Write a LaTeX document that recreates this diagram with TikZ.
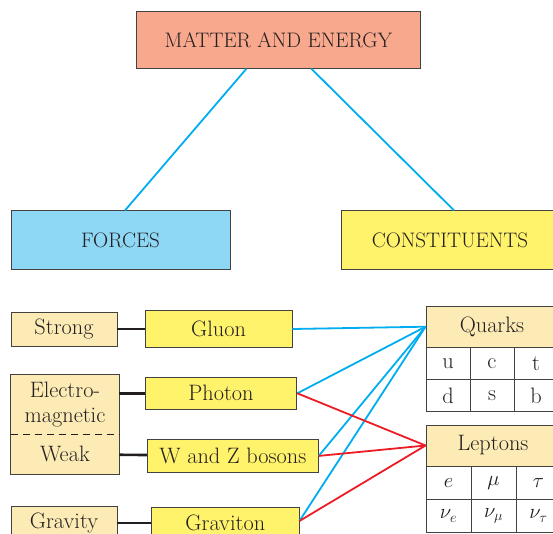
\documentclass[tikz,border=0pt]{standalone}
\usetikzlibrary{positioning}
\definecolor{salmon}{HTML}{F7A88D}
\definecolor{skyfill}{HTML}{8ED8F6}
\definecolor{lemon}{HTML}{FFF36C}
\definecolor{cream}{HTML}{FDEBB6}
\definecolor{blueline}{HTML}{00AEEF}
\definecolor{redline}{HTML}{ED1C24}
\definecolor{ink}{HTML}{231F20}
\def\capFont{\fontsize{21}{23}\selectfont}
\def\lowFont{\fontsize{22.3}{25}\selectfont}
\def\cellH{32pt}

\begin{document}
\begin{tikzpicture}[
    x=1pt, y=-1pt,
    box/.style={draw=ink!85, line width=0.9pt, inner sep=0pt, text=ink},
    title/.style={box, font=\capFont},
    force/.style={box, fill=cream, font=\lowFont, minimum width=106pt, minimum height=34pt},
    carrier/.style={box, fill=lemon, font=\lowFont, minimum height=33pt},
    head/.style={box, fill=cream, font=\lowFont, minimum height=41pt},
    cell/.style={box, fill=white, font=\lowFont, minimum height=\cellH},
    bond/.style={ink, line width=2.6pt},
    tobox/.style={blueline, line width=1.8pt},
    toq/.style={blueline, line width=1.8pt},
    tol/.style={redline, line width=1.8pt}
]
\useasboundingbox (0,0) rectangle (553,533);
\clip (0,0) rectangle (553,533);

% top level
\node[title, fill=salmon, minimum width=284.7pt, minimum height=56.6pt] (matter) at (278.4,40) {MATTER AND ENERGY};
\node[title, fill=skyfill, minimum width=219pt, minimum height=58.3pt] (forces) at (120.5,240) {FORCES};
\node[title, fill=lemon, minimum width=216.6pt, minimum height=58.3pt] (constituents) at (450,240) {CONSTITUENTS};
\draw[tobox] ([xshift=-32pt]matter.south) -- ([xshift=4.5pt]forces.north);
\draw[tobox] ([xshift=33pt]matter.south) -- ([xshift=4pt]constituents.north);

% forces
\node[force] (strong) at (64,329) {Strong};
\node[force, draw=none, minimum width=108pt, minimum height=59pt, align=center] (em) at (65,404.5) {Electro-\\magnetic};
\node[force, draw=none, minimum width=108pt, minimum height=40.3pt] (weak) at (65,454.2) {Weak};
\node[force] (gravity) at (64,523) {Gravity};
\draw[ink!85, line width=0.9pt] (em.north west) rectangle (weak.south east);
\draw[ink, line width=0.9pt, dash pattern=on 7pt off 5pt] (em.south west) -- (em.south east);

% carriers
\node[carrier, minimum width=147pt, minimum height=36.6pt] (gluon) at (218.5,329) {Gluon};
\node[carrier, minimum width=151.7pt, minimum height=32pt] (photon) at (221,393.3) {Photon};
\node[carrier, minimum width=171pt, minimum height=33.7pt] (wz) at (232.8,455.9) {W and Z bosons};
\node[carrier, minimum width=147.3pt, minimum height=32pt] (graviton) at (225.3,523) {Graviton};
\draw[bond] (strong) -- (gluon);
\draw[bond] (photon.west -| em.east) -- (photon.west);
\draw[bond] (weak) -- (wz);
\draw[bond] (gravity.east) -- (gravity.east -| graviton.west);

% constituents
\node[head, minimum width=132pt] (quarks) at (492,326.7) {Quarks};
\foreach \t [count=\i] in {u,c,t}
    \node[cell, minimum width=44pt] (q-1-\i) at ({404+44*\i},363.3) {\t};
\foreach \t [count=\i] in {d,s,b}
    \node[cell, minimum width=44pt] (q-2-\i) at ({404+44*\i},395.5) {\t};
\node[head, minimum width=134pt] (leptons) at (493,445.5) {Leptons};
\foreach \t [count=\i] in {$e$,$\mu$,$\tau$}
    \node[cell, minimum width=45pt, minimum height=33.3pt] (l-1-\i) at ({403.5+45*\i},482.7) {\t};
\foreach \t [count=\i] in {$\nu_e$,$\nu_\mu$,$\nu_\tau$}
    \node[cell, minimum width=45pt, minimum height=33.3pt] (l-2-\i) at ({403.5+45*\i},516) {\t};

% interactions
\draw[toq] (gluon.east) -- (quarks.west);
\draw[toq] (photon.east) -- (quarks.west);
\draw[toq] (wz.east) -- (quarks.west);
\draw[toq] ([yshift=2pt]graviton.east) -- (quarks.west);
\draw[tol] (photon.east) -- (leptons.west);
\draw[tol] (wz.east) -- (leptons.west);
\draw[tol] ([yshift=2pt]graviton.east) -- (leptons.west);
\end{tikzpicture}
\end{document}
